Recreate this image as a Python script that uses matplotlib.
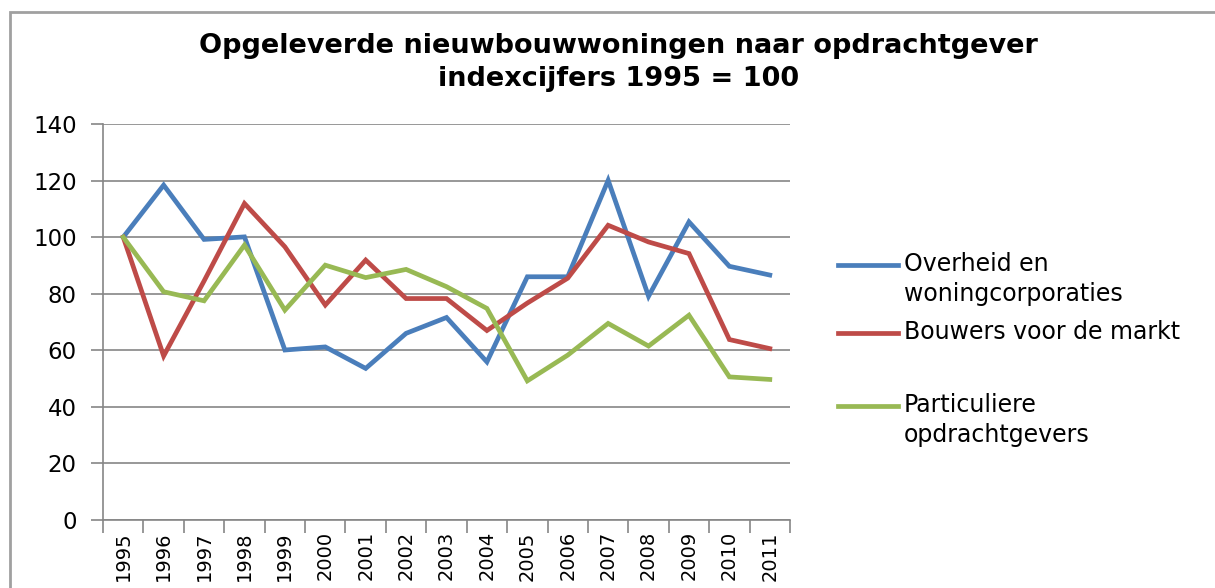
import matplotlib.pyplot as plt
from matplotlib.lines import Line2D
from matplotlib.patches import Rectangle

# Data
years = ['1995', '1996', '1997', '1998', '1999', '2000', '2001', '2002', '2003',
         '2004', '2005', '2006', '2007', '2008', '2009', '2010', '2011']
overheid = [100, 118.4, 99.2, 100.1, 60.1, 61.2, 53.6, 66, 71.6,
            55.9, 86, 86, 120.1, 79.1, 105.4, 89.7, 86.6]
bouwers = [100, 58, 84.5, 111.9, 96.6, 76, 91.9, 78.3, 78.3,
           67, 76.7, 85.5, 104.2, 98.3, 94.2, 63.8, 60.6]
particulier = [100, 80.7, 77.5, 97.2, 74.2, 90.1, 85.7, 88.6, 82.5,
               74.8, 49.2, 58.3, 69.5, 61.5, 72.4, 50.6, 49.7]

series_labels = ['Overheid en\nwoningcorporaties', 'Bouwers voor de markt',
                 'Particuliere\nopdrachtgevers']
series_colors = ['#4A7EBB', '#BE4B48', '#98B954']
series_values = [overheid, bouwers, particulier]

grid_col = '#868686'

fig = plt.figure(figsize=(12.15, 5.88), dpi=100)
ax = fig.add_axes([0.0848, 0.1156, 0.5654, 0.6735])

# outer chart frame
fig.add_artist(Rectangle((10 / 1215, -0.05), 1.2, 1 - 12 / 588 + 0.05,
                         transform=fig.transFigure, fill=False,
                         edgecolor='#A0A0A0', linewidth=2))

x = list(range(len(years)))
for vals, col, lab in zip(series_values, series_colors, series_labels):
    ax.plot(x, vals, color=col, linewidth=3.4, label=lab, solid_joinstyle='miter')

ax.set_ylim(0, 140)
ax.set_yticks(range(0, 141, 20))
ax.set_xlim(-0.5, len(years) - 0.5)
ax.set_xticks(x)
ax.set_xticklabels(years, rotation=90, fontsize=14)
ax.set_xticks([i - 0.5 for i in range(len(years) + 1)], minor=True)
ax.tick_params(axis='x', which='major', length=0, pad=8)
ax.tick_params(axis='x', which='minor', length=9, color=grid_col, width=1.2)
ax.tick_params(axis='y', length=9, color=grid_col, width=1.2, labelsize=16.5, pad=10)

ax.grid(axis='y', color=grid_col, linewidth=1.2)
ax.set_axisbelow(True)
for s in ['top', 'right']:
    ax.spines[s].set_visible(False)
for s in ['left', 'bottom']:
    ax.spines[s].set_color(grid_col)
    ax.spines[s].set_linewidth(1.2)

fig.text(0.509, 1 - 46 / 588, 'Opgeleverde nieuwbouwwoningen naar opdrachtgever',
         ha='center', va='center', fontsize=19.5, fontweight='bold')
fig.text(0.509, 1 - 79 / 588, 'indexcijfers 1995 = 100',
         ha='center', va='center', fontsize=19.5, fontweight='bold')

# legend drawn by hand so the line sits on the first text line
legend_y = [265, 333, 406]
for ly, col, lab in zip(legend_y, series_colors, series_labels):
    yf = 1 - ly / 588
    fig.add_artist(Line2D([838 / 1215, 898 / 1215], [yf, yf], color=col,
                          linewidth=3.4, transform=fig.transFigure))
    fig.text(904 / 1215, yf + 0.022, lab, ha='left', va='top', fontsize=17,
             linespacing=1.3)

fig.savefig('out.png', dpi=100)
